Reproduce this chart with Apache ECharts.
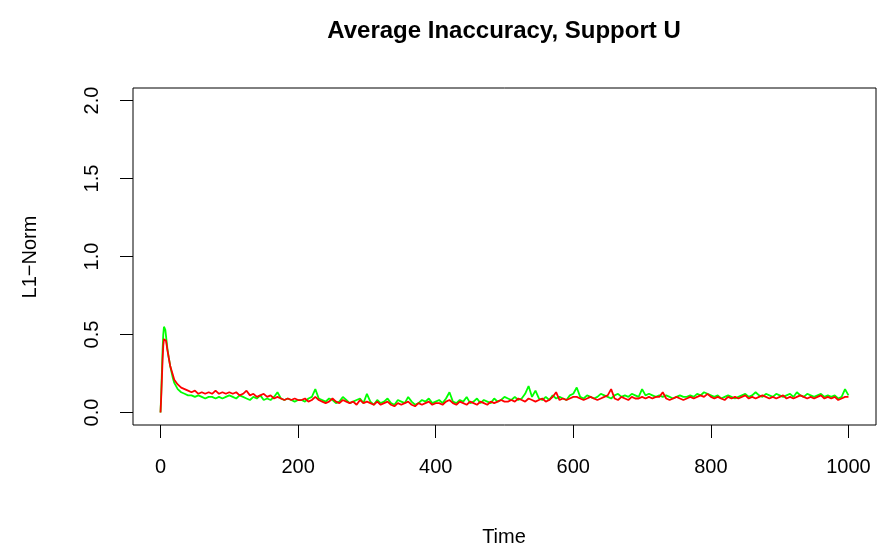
<!DOCTYPE html>
<html><head><meta charset="utf-8">
<script src="https://cdn.jsdelivr.net/npm/echarts@6/dist/echarts.min.js"></script>
<style>html,body{margin:0;padding:0;background:#fff}#c{width:882px;height:547px}</style>
</head><body><div id="c"></div>
<script>
const titleText = "Average Inaccuracy, Support U";
const xTitle = "Time";
const yTitle = "L1\u2212Norm";
const xTicks = [0, 200, 400, 600, 800, 1000];
const yTicks = [0, 0.5, 1, 1.5, 2];

const time = [0,1,2,3,4,5,6,7,8,9,10,12,14,16,18,20,
25,30,35,40,45,50,55,60,65,70,75,80,85,90,95,100,
105,110,115,120,125,130,135,140,145,150,155,160,165,170,175,180,185,190,195,200,
205,210,215,220,225,230,235,240,245,250,255,260,265,270,275,280,285,290,295,300,
305,310,315,320,325,330,335,340,345,350,355,360,365,370,375,380,385,390,395,400,
405,410,415,420,425,430,435,440,445,450,455,460,465,470,475,480,485,490,495,500,
505,510,515,520,525,530,535,540,545,550,555,560,565,570,575,580,585,590,595,600,
605,610,615,620,625,630,635,640,645,650,655,660,665,670,675,680,685,690,695,700,
705,710,715,720,725,730,735,740,745,750,755,760,765,770,775,780,785,790,795,800,
805,810,815,820,825,830,835,840,845,850,855,860,865,870,875,880,885,890,895,900,
905,910,915,920,925,930,935,940,945,950,955,960,965,970,975,980,985,990,995,1000];

const green = [0.00,0.12,0.26,0.40,0.50,0.55,0.56,0.53,0.49,0.45,0.41,0.35,0.30,0.26,0.22,0.19,
0.15,0.13,0.12,0.11,0.11,0.10,0.11,0.10,0.09,0.10,0.10,0.09,0.10,0.09,0.10,0.11,
0.10,0.09,0.11,0.10,0.09,0.08,0.10,0.09,0.11,0.08,0.09,0.08,0.10,0.13,0.09,0.08,0.09,0.08,0.07,0.08,
0.08,0.07,0.09,0.10,0.15,0.09,0.08,0.07,0.09,0.08,0.06,0.07,0.10,0.08,0.06,0.07,0.08,0.09,0.06,0.12,
0.07,0.05,0.08,0.06,0.07,0.09,0.06,0.05,0.08,0.07,0.06,0.10,0.07,0.05,0.06,0.08,0.07,0.09,0.06,0.07,
0.08,0.06,0.09,0.13,0.07,0.06,0.08,0.07,0.10,0.06,0.07,0.09,0.06,0.08,0.07,0.06,0.09,0.07,0.08,0.10,
0.09,0.08,0.10,0.08,0.09,0.12,0.17,0.10,0.14,0.09,0.08,0.10,0.08,0.11,0.09,0.10,0.09,0.08,0.11,0.12,
0.16,0.10,0.09,0.11,0.10,0.09,0.10,0.12,0.11,0.10,0.09,0.11,0.12,0.10,0.11,0.10,0.12,0.11,0.10,0.15,
0.11,0.12,0.11,0.10,0.11,0.10,0.11,0.10,0.09,0.10,0.11,0.10,0.10,0.11,0.10,0.12,0.11,0.13,0.12,0.11,
0.10,0.11,0.09,0.10,0.11,0.10,0.09,0.10,0.11,0.12,0.10,0.11,0.13,0.11,0.10,0.12,0.11,0.10,0.12,0.11,
0.10,0.11,0.12,0.10,0.13,0.11,0.10,0.12,0.11,0.10,0.11,0.12,0.10,0.11,0.10,0.11,0.09,0.10,0.15,0.11];

const red = [0.00,0.10,0.22,0.34,0.43,0.47,0.48,0.48,0.46,0.43,0.40,0.35,0.30,0.27,0.24,0.21,
0.18,0.16,0.15,0.14,0.13,0.14,0.12,0.13,0.12,0.13,0.12,0.14,0.12,0.13,0.12,0.13,
0.12,0.13,0.11,0.12,0.14,0.11,0.12,0.10,0.11,0.12,0.10,0.11,0.09,0.10,0.09,0.08,0.09,0.08,0.09,0.08,
0.08,0.09,0.07,0.08,0.10,0.08,0.07,0.06,0.07,0.09,0.07,0.06,0.08,0.07,0.06,0.07,0.05,0.08,0.06,0.07,
0.06,0.05,0.07,0.05,0.06,0.07,0.05,0.04,0.06,0.05,0.06,0.07,0.05,0.04,0.06,0.05,0.06,0.07,0.05,0.06,
0.06,0.05,0.07,0.08,0.06,0.05,0.07,0.06,0.05,0.07,0.06,0.05,0.07,0.06,0.05,0.07,0.06,0.07,0.08,0.07,
0.07,0.08,0.07,0.09,0.08,0.07,0.09,0.08,0.07,0.08,0.09,0.07,0.08,0.10,0.13,0.08,0.09,0.08,0.09,0.10,
0.10,0.09,0.08,0.09,0.10,0.09,0.08,0.09,0.10,0.11,0.15,0.09,0.08,0.10,0.09,0.08,0.10,0.09,0.09,0.10,
0.09,0.10,0.09,0.10,0.10,0.13,0.09,0.08,0.09,0.10,0.09,0.08,0.09,0.10,0.09,0.10,0.11,0.10,0.12,0.10,
0.09,0.10,0.09,0.08,0.10,0.09,0.10,0.09,0.10,0.11,0.09,0.10,0.09,0.10,0.11,0.10,0.09,0.10,0.09,0.10,
0.11,0.09,0.10,0.09,0.10,0.11,0.10,0.09,0.10,0.09,0.10,0.11,0.09,0.10,0.09,0.10,0.08,0.09,0.10,0.10];

const FONT = "'Liberation Sans', Arial, Helvetica, sans-serif";
const chart = echarts.init(document.getElementById('c'), null, {renderer: 'canvas'});
const pairs = (ys) => time.map((t, i) => [t, ys[i]]);

chart.setOption({
  animation: false,
  backgroundColor: '#ffffff',
  grid: {left: 133, right: 6, top: 88, bottom: 122, show: true, borderColor: '#000', borderWidth: 1, backgroundColor: 'transparent'},
  xAxis: {
    type: 'value', min: -40, max: 1040,
    axisLine: {show: false, onZero: false},
    splitLine: {show: false},
    axisTick: {show: true, customValues: xTicks, length: 13, inside: false, lineStyle: {color: '#000', width: 1}},
    axisLabel: {customValues: xTicks, margin: 32, color: '#000', fontSize: 20, fontFamily: FONT,
      formatter: (v) => String(v)}
  },
  yAxis: {
    type: 'value', min: -0.08, max: 2.08,
    axisLine: {show: false, onZero: false},
    splitLine: {show: false},
    axisTick: {show: true, customValues: yTicks, length: 13, inside: false, lineStyle: {color: '#000', width: 1}},
    axisLabel: {customValues: yTicks, rotate: 90, margin: 31, color: '#000', fontSize: 20, fontFamily: FONT,
      formatter: (v) => v.toFixed(1)}
  },
  graphic: [
    {type: 'text', x: 504, y: 31, style: {text: titleText, font: "bold 24px " + FONT, fill: '#000', textAlign: 'center', textVerticalAlign: 'middle'}},
    {type: 'text', x: 504, y: 537, style: {text: xTitle, font: "20px " + FONT, fill: '#000', textAlign: 'center', textVerticalAlign: 'middle'}},
    {type: 'text', x: 30, y: 257, rotation: Math.PI / 2, style: {text: yTitle, font: "20px " + FONT, fill: '#000', textAlign: 'center', textVerticalAlign: 'middle'}}
  ],
  series: [
    {type: 'line', data: pairs(green), showSymbol: false, symbol: 'none', lineStyle: {color: '#00ff00', width: 1.8}, itemStyle: {color: '#00ff00'}, z: 2},
    {type: 'line', data: pairs(red), showSymbol: false, symbol: 'none', lineStyle: {color: '#ff0000', width: 1.8}, itemStyle: {color: '#ff0000'}, z: 3}
  ]
});
</script></body></html>
